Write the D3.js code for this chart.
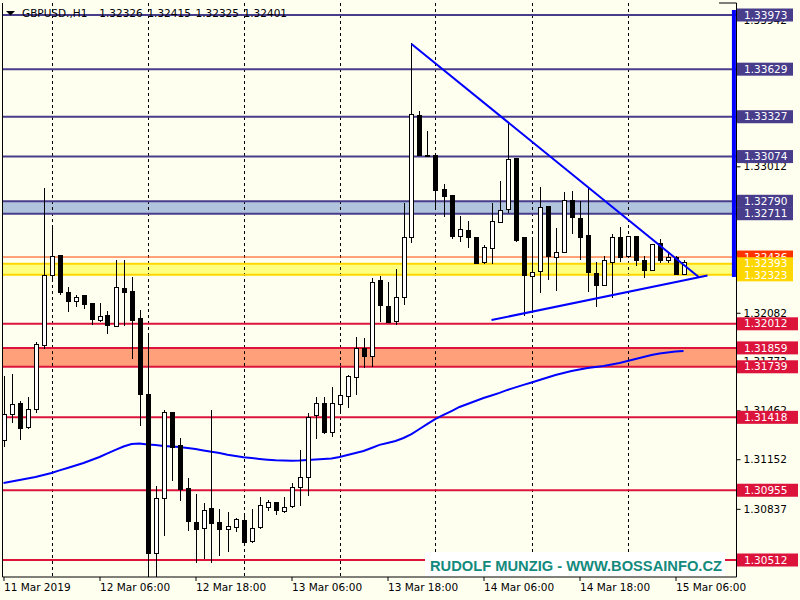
<!DOCTYPE html>
<html><head><meta charset="utf-8">
<script src="https://cdn.jsdelivr.net/npm/d3@7"></script>
<style>
body{margin:0;background:#FFFFF0;}
svg{display:block;font-family:"DejaVu Sans",sans-serif;}
</style>
</head><body><svg id="c" width="800" height="600"></svg>
<script>
const symbol = "GBPUSD.,H1";
const headerValues = ["1.32326","1.32415","1.32325","1.32401"];

const opens = [
1.31274,1.31437,1.31507,1.31355,1.31469,1.31876,1.32320,1.32443,1.32212,1.32155,
1.32189,1.32144,1.32032,1.32066,1.31996,1.32238,1.32220,1.32043,1.31560,1.30555,
1.30904,1.31450,1.31236,1.30968,1.30752,1.30714,1.30842,1.30752,1.30707,1.30720,
1.30766,1.30631,1.30720,1.30847,1.30879,1.30822,1.30851,1.30974,1.31037,1.31431,
1.31503,1.31323,1.31498,1.31549,1.31672,1.31857,1.31803,1.32284,1.32125,1.32025,
1.32180,1.32561,1.33334,1.33080,1.33082,1.32866,1.32828,1.32565,1.32606,1.32557,
1.32400,1.32492,1.32657,1.32735,1.33059,1.32557,1.32311,1.32343,1.32754,1.32434,
1.32466,1.32792,1.32682,1.32570,1.32333,1.32254,1.32400,1.32561,1.32438,1.32565,
1.32413,1.32349,1.32519,1.32417,1.32434,1.32326];
const highs = [
1.31681,1.31693,1.31522,1.31545,1.31895,1.32874,1.32620,1.32449,1.32246,1.32195,
1.32195,1.32146,1.32144,1.32093,1.32417,1.32417,1.32311,1.32100,1.31952,1.30982,
1.31465,1.31452,1.31285,1.31031,1.30931,1.30876,1.31465,1.30834,1.30817,1.30781,
1.30791,1.30836,1.30910,1.30893,1.30881,1.30910,1.30999,1.31211,1.31444,1.31545,
1.31549,1.31613,1.31740,1.31687,1.31926,1.31920,1.32301,1.32316,1.32278,1.32358,
1.32777,1.33795,1.33365,1.33236,1.33084,1.32898,1.32830,1.32697,1.32663,1.32563,
1.32511,1.32777,1.32921,1.33292,1.33063,1.32565,1.32551,1.32879,1.32760,1.32619,
1.32851,1.32855,1.32794,1.32874,1.32406,1.32443,1.32582,1.32629,1.32570,1.32570,
1.32443,1.32519,1.32549,1.32470,1.32443,1.32415];
const lows = [
1.31230,1.31384,1.31274,1.31346,1.31448,1.31854,1.32295,1.32195,1.32089,1.32121,
1.32106,1.32006,1.32025,1.31949,1.31990,1.32000,1.31791,1.31365,1.30390,1.30390,
1.30667,1.31016,1.30889,1.30698,1.30495,1.30517,1.30491,1.30540,1.30563,1.30692,
1.30608,1.30618,1.30711,1.30822,1.30798,1.30813,1.30844,1.30855,1.30921,1.31283,
1.31312,1.31295,1.31439,1.31476,1.31560,1.31730,1.31736,1.32022,1.32015,1.32005,
1.32132,1.32527,1.33078,1.33073,1.32743,1.32692,1.32553,1.32534,1.32495,1.32390,
1.32390,1.32394,1.32650,1.32718,1.32534,1.32064,1.32079,1.32206,1.32290,1.32220,
1.32460,1.32582,1.32417,1.32216,1.32119,1.32252,1.32174,1.32406,1.32430,1.32379,
1.32303,1.32347,1.32396,1.32400,1.32322,1.32325];
const closes = [
1.31433,1.31501,1.31349,1.31469,1.31882,1.32316,1.32441,1.32210,1.32153,1.32180,
1.32133,1.32038,1.32060,1.32000,1.32244,1.32210,1.32032,1.31562,1.30555,1.30900,
1.31450,1.31225,1.30961,1.30756,1.30705,1.30828,1.30743,1.30705,1.30726,1.30771,
1.30622,1.30714,1.30855,1.30879,1.30828,1.30847,1.30974,1.31037,1.31418,1.31507,
1.31321,1.31507,1.31558,1.31679,1.31857,1.31803,1.32276,1.32127,1.32019,1.32180,
1.32561,1.33342,1.33080,1.33078,1.32857,1.32819,1.32565,1.32612,1.32559,1.32394,
1.32498,1.32663,1.32730,1.33057,1.32544,1.32318,1.32339,1.32752,1.32438,1.32466,
1.32798,1.32687,1.32561,1.32337,1.32254,1.32413,1.32561,1.32434,1.32565,1.32411,
1.32349,1.32517,1.32417,1.32434,1.32328,1.32401];
const maValues = [
1.31001,1.31011,1.31020,1.31030,1.31039,1.31052,1.31065,1.31081,1.31096,1.31112,
1.31128,1.31147,1.31166,1.31189,1.31211,1.31233,1.31249,1.31252,1.31246,1.31243,
1.31236,1.31233,1.31230,1.31223,1.31217,1.31208,1.31200,1.31192,1.31181,1.31173,
1.31164,1.31160,1.31154,1.31149,1.31145,1.31144,1.31143,1.31144,1.31147,1.31150,
1.31154,1.31157,1.31166,1.31179,1.31192,1.31204,1.31223,1.31243,1.31255,1.31268,
1.31287,1.31312,1.31344,1.31376,1.31408,1.31433,1.31458,1.31484,1.31503,1.31522,
1.31541,1.31557,1.31573,1.31592,1.31608,1.31624,1.31639,1.31655,1.31671,1.31687,
1.31700,1.31712,1.31722,1.31731,1.31738,1.31744,1.31754,1.31763,1.31776,1.31789,
1.31801,1.31814,1.31824,1.31830,1.31836,1.31839];

const timeTickBars = [0,12,24,36,48,60,72,84];
const timeTickLabels = ["11 Mar 2019","12 Mar 06:00","12 Mar 18:00","13 Mar 06:00","13 Mar 18:00","14 Mar 06:00","14 Mar 18:00","15 Mar 06:00"];
const gridBars = [6,18,30,42,54,66,78];
const priceTicks = [1.33942,1.33632,1.33322,1.33012,1.32702,1.32392,1.32082,1.31773,1.31462,1.31152,1.30837,1.30527];

const resistanceLevels = [1.33973,1.33629,1.33327,1.33074,1.32790,1.32711];
const supportLevels = [1.32012,1.31859,1.31739,1.31418,1.30955,1.30512];
const pivotLevels = [1.32393,1.32323];
const askPrice = 1.32436;
const zoneLow = [1.32711,1.32323,1.31739];
const zoneHigh = [1.32790,1.32393,1.31859];
const zoneColors = ["#B0C4DE","#FFFF80","#FFA07A"];

const trendUpperBars = [51,86.9], trendUpperPrices = [1.33789,1.32309];
const trendLowerBars = [61,88], trendLowerPrices = [1.32036,1.32319];
const markerBar = 91.3, markerPrices = [1.34005,1.32309];
const watermark = "RUDOLF MUNZIG - WWW.BOSSAINFO.CZ";

const svg = d3.select("#c");
const L = 2.5, T = 3, R = 736.5, B = 577;
const x = d3.scaleLinear().domain([0, 91.5]).range([3.5, 735.5]);
const y = d3.scaleLinear().domain([1.30512, 1.33973]).range([560, 15]);

svg.append("rect").attr("width",800).attr("height",600).attr("fill","#FFFFF0");
svg.append("defs").append("clipPath").attr("id","plot")
  .append("rect").attr("x",L).attr("y",T).attr("width",R-L).attr("height",B-T);

const plot = svg.append("g").attr("clip-path","url(#plot)");

// zones
plot.selectAll("rect.zone").data(zoneLow).enter().append("rect")
  .attr("x",L).attr("width",R-L)
  .attr("y",(d,i)=>y(zoneHigh[i])).attr("height",(d,i)=>y(d)-y(zoneHigh[i]))
  .attr("fill",(d,i)=>zoneColors[i]);

// header
svg.append("path").attr("d","M6,11 L15,11 L10.5,15.5 Z").attr("fill","#000");
svg.append("text").attr("x",22).attr("y",17).attr("font-size","10.5px").attr("fill","#000").text(symbol);
svg.selectAll("text.hv").data(headerValues).enter().append("text")
  .attr("x",(d,i)=>99.3+i*48.1).attr("y",17).attr("font-size","10.5px").attr("fill","#000").text(d=>d);

// grid
plot.selectAll("line.grid").data(gridBars).enter().append("line")
  .attr("x1",d=>Math.round(x(d))+0.5).attr("x2",d=>Math.round(x(d))+0.5)
  .attr("y1",T).attr("y2",B).attr("stroke","#000").attr("stroke-dasharray","3,3").attr("stroke-width",1);

// ask line
plot.append("line").attr("x1",L).attr("x2",R).attr("y1",y(askPrice)).attr("y2",y(askPrice))
  .attr("stroke","#FF4500").attr("stroke-width",1);

function levelLines(vals,color){
  plot.selectAll(null).data(vals).enter().append("line")
   .attr("x1",L).attr("x2",R).attr("y1",d=>y(d)).attr("y2",d=>y(d))
   .attr("stroke",color).attr("stroke-width",2);
}
levelLines(resistanceLevels,"#483D8B");
levelLines(supportLevels,"#DC143C");
levelLines(pivotLevels,"#FFD700");

// MA
plot.append("path").datum(maValues)
  .attr("d",d3.line().x((d,i)=>x(i)).y(d=>y(d)))
  .attr("fill","none").attr("stroke","#0000FF").attr("stroke-width",2);

// candles
const idx = d3.range(opens.length);
const cg = plot.append("g").attr("shape-rendering","crispEdges");
cg.selectAll("line.wick").data(idx).enter().append("line")
  .attr("x1",i=>Math.round(x(i))+0.5).attr("x2",i=>Math.round(x(i))+0.5)
  .attr("y1",i=>y(highs[i])).attr("y2",i=>y(lows[i]))
  .attr("stroke","#000").attr("stroke-width",1);
cg.selectAll("rect.body").data(idx).enter().append("rect")
  .attr("x",i=>Math.round(x(i))-1.5).attr("width",4)
  .attr("y",i=>y(Math.max(opens[i],closes[i])))
  .attr("height",i=>Math.max(1,Math.abs(y(opens[i])-y(closes[i]))))
  .attr("fill",i=>closes[i]>=opens[i]?"#FFFFFF":"#000000")
  .attr("stroke","#000").attr("stroke-width",1);

// trendlines
function tline(bars,prices){
  plot.append("line").attr("x1",x(bars[0])).attr("y1",y(prices[0]))
   .attr("x2",x(bars[1])).attr("y2",y(prices[1]))
   .attr("stroke","#0000FF").attr("stroke-width",2);
}
tline(trendUpperBars,trendUpperPrices);
tline(trendLowerBars,trendLowerPrices);

// watermark
svg.append("rect").attr("x",425).attr("y",552).attr("width",300).attr("height",24.5).attr("fill","#FFFFFF");
svg.append("text").attr("x",430).attr("y",571).attr("font-family","'Liberation Sans',Arial,sans-serif")
  .attr("font-weight","bold").attr("font-size","14px").attr("fill","#138A7C")
  .attr("textLength",292).attr("lengthAdjust","spacingAndGlyphs").text(watermark);

// frame
svg.append("line").attr("x1",L).attr("x2",L).attr("y1",T).attr("y2",B).attr("stroke","#000");
svg.append("line").attr("x1",L).attr("x2",R).attr("y1",B).attr("y2",B).attr("stroke","#000");
svg.append("line").attr("x1",719).attr("x2",R).attr("y1",T).attr("y2",T).attr("stroke","#000");

// axes
const yAxis = d3.axisRight(y).tickValues(priceTicks).tickFormat(d3.format(".5f")).tickSize(4).tickPadding(3);
const ya = svg.append("g").attr("transform",`translate(${R},0)`).call(yAxis);
ya.select(".domain").remove();
ya.append("line").attr("x1",0).attr("x2",0).attr("y1",T).attr("y2",B).attr("stroke","#000");
ya.selectAll("text").attr("font-size","10.5px").attr("font-family","'DejaVu Sans',sans-serif").attr("fill","#000");

const xAxis = d3.axisBottom(x).tickValues(timeTickBars).tickFormat((d,i)=>timeTickLabels[i]).tickSize(4).tickPadding(3);
const xa = svg.append("g").attr("transform",`translate(0,${B})`).call(xAxis);
xa.select(".domain").remove();
xa.selectAll("text").attr("text-anchor","start").attr("font-size","10.5px")
  .attr("font-family","'DejaVu Sans',sans-serif").attr("fill","#000");

// marker bar at right edge
svg.append("line").attr("x1",x(markerBar)).attr("x2",x(markerBar))
  .attr("y1",y(markerPrices[0])).attr("y2",y(markerPrices[1]))
  .attr("stroke","#0000FF").attr("stroke-width",4);

// price labels
function priceLabels(vals,bg,w){
  const g = svg.append("g");
  const gs = g.selectAll("g").data(vals).enter().append("g")
    .attr("transform",d=>`translate(737,${y(d)})`);
  gs.append("rect").attr("x",0).attr("y",-6.5).attr("width",w).attr("height",13).attr("fill",bg);
  gs.append("text").attr("x",7).attr("y",0).attr("dy","0.35em").attr("font-size","10.5px")
    .attr("fill","#FFFFFF").text(d=>d3.format(".5f")(d));
}
priceLabels([askPrice],"#FF3300",56);
priceLabels(resistanceLevels,"#483D8B",56);
priceLabels(supportLevels,"#DC143C",61);
priceLabels(pivotLevels,"#FFD700",56);
</script></body></html>
